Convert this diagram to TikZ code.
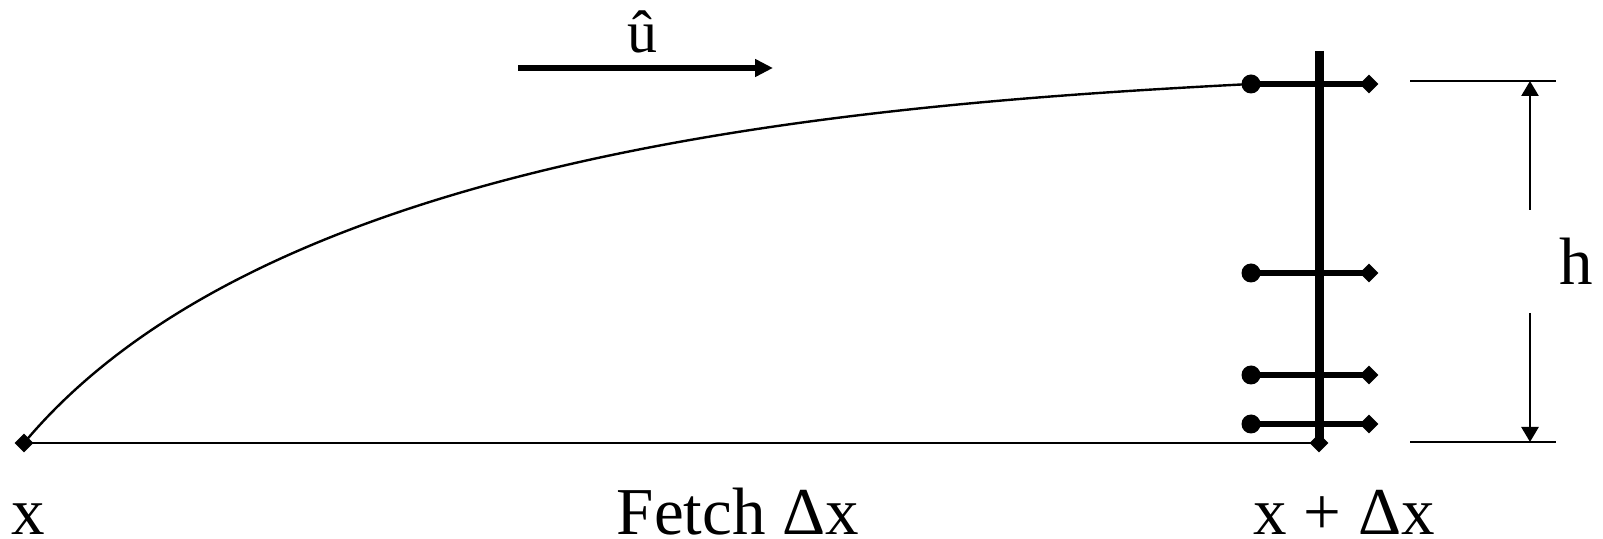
\documentclass[tikz,border=0pt]{standalone}
\usepackage{fontspec}
\setmainfont{Liberation Serif}
\usetikzlibrary{arrows.meta,shapes.geometric,backgrounds}
\begin{document}
\begin{tikzpicture}[x=0.5bp,y=-0.5bp,
  dot/.style={circle,fill,inner sep=0pt,minimum size=9.5bp},
  dia/.style={diamond,fill,inner sep=0pt,minimum size=9.5bp},
  lbl/.style={font=\fontsize{33.5bp}{40bp}\selectfont,anchor=base,inner sep=0pt},
  smalllbl/.style={font=\fontsize{30bp}{36bp}\selectfont,anchor=base,inner sep=0pt},
  bar/.style={line width=2.75bp},
  thinline/.style={line width=1.3bp},
  curveline/.style={line width=1.2bp},
  pole/.style={line width=4.5bp},
  dimarrow/.style={line width=1.3bp,-{Triangle[length=7.5bp,width=8.5bp]}},
  windarrow/.style={line width=3.2bp,-{Triangle[length=9bp,width=8.5bp]}},
]
\useasboundingbox (0,0) rectangle (1603,539);

% end points
\node[dia] (x0) at (24,443) {};
\node[dia] (x1) at (1319,443) {};
\coordinate (ptop) at (1319,51);

% bars
\node[dot] (l1) at (1251,84) {};
\node[dia] (r1) at (1369,84) {};
\node[dot] (l2) at (1251,273) {};
\node[dia] (r2) at (1369,273) {};
\node[dot] (l3) at (1251,375) {};
\node[dia] (r3) at (1369,375) {};
\node[dot] (l4) at (1251,424) {};
\node[dia] (r4) at (1369,424) {};

\begin{scope}[on background layer]
  \draw[curveline] (x0.center) .. controls (269,150) and (862,104) .. (l1.center);
  \draw[thinline] (x0.center) -- (x1.center);
  \draw[pole] (ptop) -- (x1.center);
  \draw[bar] (l1.center) -- (r1.center);
  \draw[bar] (l2.center) -- (r2.center);
  \draw[bar] (l3.center) -- (r3.center);
  \draw[bar] (l4.center) -- (r4.center);
\end{scope}

% height dimension
\coordinate (ht1) at (1410,81);
\coordinate (ht2) at (1556,81);
\coordinate (hb1) at (1410,442);
\coordinate (hb2) at (1556,442);
\coordinate (hta) at (1530,210);
\coordinate (htt) at (1530,81);
\coordinate (hba) at (1530,313);
\coordinate (hbt) at (1530,442);
\draw[thinline] (ht1) -- (ht2);
\draw[thinline] (hb1) -- (hb2);
\draw[dimarrow] (hta) -- (htt);
\draw[dimarrow] (hba) -- (hbt);

% wind direction
\coordinate (ua) at (518,68);
\coordinate (ub) at (773,68);
\draw[windarrow] (ua) -- (ub);

% labels
\node[smalllbl] (ulab) at (642,53) {û};
\node[lbl] (hlab) at (1576,285) {h};
\node[lbl] (xlab) at (28,535) {x};
\node[lbl] (flab) at (738,535) {Fetch Δx};
\node[lbl] (xdlab) at (1344,535) {x + Δx};
\end{tikzpicture}
\end{document}
